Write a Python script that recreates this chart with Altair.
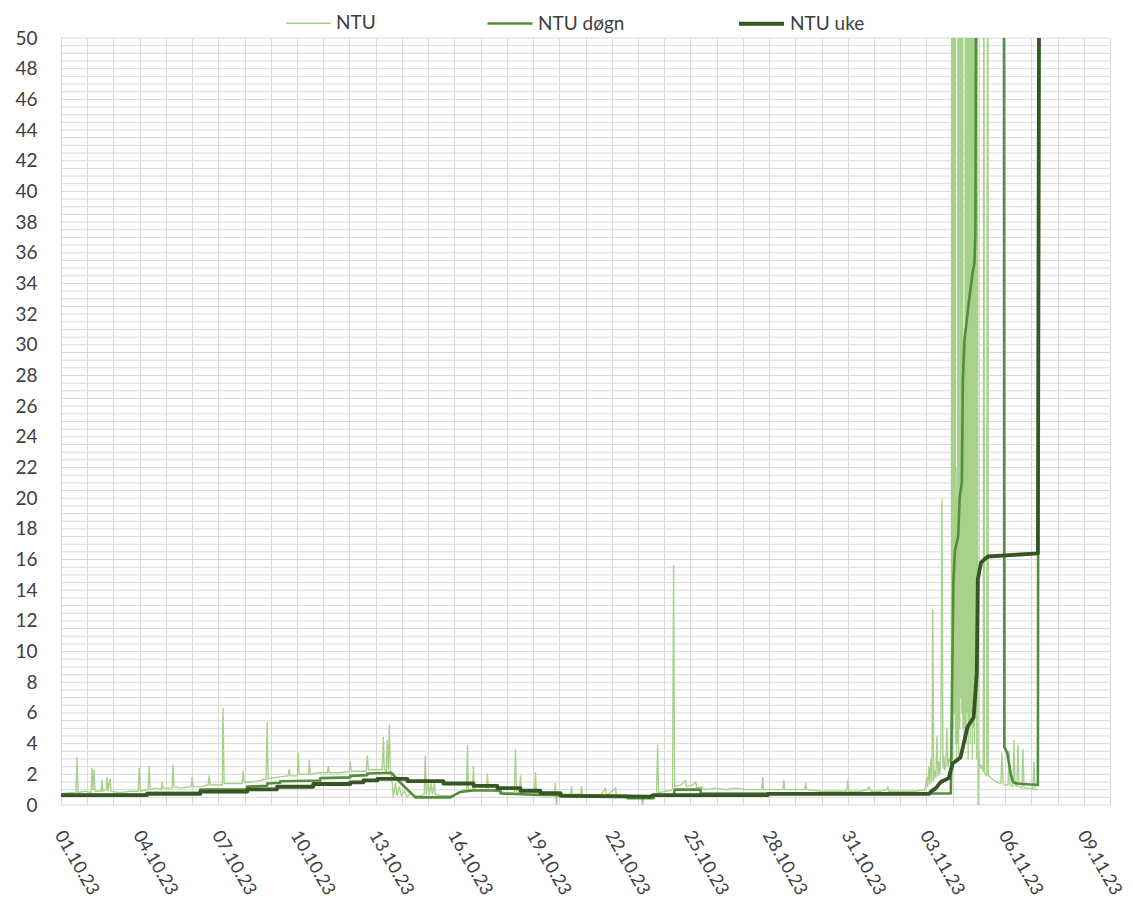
import json
import altair as alt
import pandas as pd

# ---------------- data ----------------
series_names = ["NTU", "NTU døgn", "NTU uke"]
series_colors = ["#A9D18E", "#558D3E", "#375623"]
series_widths = [1.4, 3.8, 3.8]

# x = days since 01.10.23 00:00
x_tick_labels = ["01.10.23", "04.10.23", "07.10.23", "10.10.23", "13.10.23",
                 "16.10.23", "19.10.23", "22.10.23", "25.10.23", "28.10.23",
                 "31.10.23", "03.11.23", "06.11.23", "09.11.23"]
y_tick_labels = [0, 2, 4, 6, 8, 10, 12, 14, 16, 18, 20, 22, 24, 26, 28, 30,
                 32, 34, 36, 38, 40, 42, 44, 46, 48, 50]

# raw NTU readings (day, NTU)
ntu_raw = [
    (0.00, 0.75), (0.34, 0.8), (0.57, 0.8), (0.61, 3.1), (0.65, 0.8), (0.92, 0.9),
    (1.15, 0.8), (1.18, 2.4), (1.22, 1.0), (1.26, 2.3), (1.30, 0.9), (1.53, 0.9),
    (1.56, 1.6), (1.60, 0.9), (1.72, 1.0), (1.76, 1.8), (1.79, 0.9), (1.87, 1.7),
    (1.91, 0.9), (2.25, 0.8), (2.63, 0.9), (2.94, 0.9), (2.98, 2.4), (3.02, 0.9),
    (3.32, 1.0), (3.36, 2.5), (3.40, 1.0), (3.59, 1.1), (3.82, 1.0), (3.85, 1.5),
    (3.89, 1.1), (4.24, 1.1), (4.27, 2.6), (4.31, 1.2), (4.54, 1.1), (4.96, 1.2),
    (5.00, 1.8), (5.04, 1.2), (5.31, 1.2), (5.61, 1.3), (5.65, 1.9), (5.69, 1.3),
    (5.88, 1.3), (6.15, 1.3), (6.18, 6.3), (6.22, 1.4), (6.45, 1.4), (6.91, 1.4),
    (6.95, 2.2), (6.98, 1.5), (7.29, 1.5), (7.60, 1.6), (7.82, 1.7), (7.86, 5.4),
    (7.90, 1.7), (8.17, 1.8), (8.66, 1.9), (8.70, 2.3), (8.74, 1.9), (9.01, 1.9),
    (9.05, 3.4), (9.08, 2.0), (9.43, 2.0), (9.47, 2.9), (9.50, 2.0), (9.81, 2.1),
    (10.15, 2.1), (10.19, 2.5), (10.23, 2.1), (10.65, 2.1), (10.99, 2.2), (11.03, 2.8),
    (11.07, 2.2), (11.34, 2.2), (11.64, 2.2), (11.68, 3.2), (11.72, 2.3), (11.98, 2.3),
    (12.25, 2.3), (12.29, 4.4), (12.33, 2.3), (12.40, 2.2), (12.44, 4.2), (12.48, 2.3),
    (12.52, 5.2), (12.56, 2.3), (12.63, 1.4), (12.67, 0.5), (12.75, 1.4), (12.82, 0.6),
    (12.90, 1.2), (12.98, 0.6), (13.09, 0.9), (13.21, 0.5), (13.32, 0.8), (13.51, 0.6),
    (13.70, 0.6), (13.85, 0.7), (13.89, 3.2), (13.93, 0.7), (14.01, 1.5), (14.05, 0.7),
    (14.12, 1.4), (14.16, 0.7), (14.24, 1.4), (14.27, 0.7), (14.47, 0.6), (14.85, 0.6),
    (15.15, 0.8), (15.46, 1.0), (15.50, 3.9), (15.53, 1.0), (15.69, 1.0), (15.73, 2.5),
    (15.76, 1.0), (15.99, 1.0), (16.22, 1.0), (16.26, 2.0), (16.30, 1.0), (16.56, 0.9),
    (16.95, 0.8), (17.29, 0.8), (17.33, 3.6), (17.37, 0.8), (17.48, 0.8), (17.52, 1.9),
    (17.56, 0.8), (17.90, 0.7), (18.05, 0.7), (18.09, 2.1), (18.13, 0.7), (18.47, 0.7),
    (18.82, 0.7), (18.85, 1.4), (18.89, 0.0), (18.93, 0.7), (19.43, 0.7), (19.47, 1.2),
    (19.50, 0.7), (19.81, 0.7), (19.85, 1.2), (19.89, 0.6), (20.57, 0.6), (20.76, 1.1),
    (20.80, 0.6), (21.15, 1.1), (21.18, 0.6), (21.72, 0.5), (22.14, 0.5), (22.18, 0.0),
    (22.21, 0.5), (22.48, 0.6), (22.71, 0.7), (22.75, 3.9), (22.79, 0.8), (23.05, 0.9),
    (23.32, 1.0), (23.36, 15.6), (23.40, 1.2), (23.63, 1.3), (23.82, 1.6), (23.85, 1.2),
    (24.08, 1.3), (24.20, 1.5), (24.24, 1.1), (24.39, 1.2), (24.58, 1.0), (24.96, 1.1),
    (25.34, 1.0), (25.73, 1.1), (26.11, 1.0), (26.49, 1.0), (26.72, 1.0), (26.76, 1.8),
    (26.79, 1.0), (27.06, 1.0), (27.52, 1.0), (27.56, 1.6), (27.60, 1.0), (28.02, 1.0),
    (28.36, 1.0), (28.40, 1.4), (28.44, 1.0), (28.97, 0.9), (29.54, 0.9), (29.96, 0.9),
    (30.00, 1.6), (30.04, 0.9), (30.50, 0.9), (30.76, 1.0), (30.80, 1.2), (30.88, 0.9),
    (31.26, 0.9), (31.49, 1.0), (31.53, 1.2), (31.56, 0.9), (32.02, 0.9), (32.60, 0.9),
    (32.94, 1.0),
    # event 03.11 - 07.11
    (33.02, 1.8), (33.05, 1.2), (33.09, 2.5), (33.13, 1.4), (33.17, 3.0), (33.21, 1.5),
    (33.24, 12.7), (33.28, 1.6), (33.32, 2.2), (33.36, 1.8), (33.40, 4.5), (33.44, 1.9),
    (33.47, 2.8), (33.51, 2.0), (33.55, 3.5), (33.59, 19.9), (33.63, 2.4), (33.66, 3.2),
    (33.70, 2.3), (33.74, 2.6), (33.78, 5.0), (33.82, 2.5), (33.85, 3.0), (33.89, 2.8),
    (33.93, 3.5),
    (33.95, 4), (33.97, 95), (33.99, 3), (34.01, 120), (34.03, 5), (34.05, 110),
    (34.07, 6), (34.09, 130), (34.11, 4), (34.13, 20), (34.15, 3), (34.17, 22),
    (34.19, 4), (34.21, 105), (34.23, 3), (34.25, 115), (34.27, 5), (34.29, 125),
    (34.31, 7), (34.33, 135), (34.35, 6), (34.37, 140), (34.39, 5), (34.41, 25),
    (34.43, 4), (34.45, 30), (34.47, 5), (34.49, 120), (34.51, 4), (34.53, 110),
    (34.55, 6), (34.57, 130), (34.59, 3), (34.61, 125), (34.63, 5), (34.65, 135),
    (34.67, 4), (34.69, 140), (34.71, 6), (34.73, 120), (34.75, 3), (34.77, 115),
    (34.79, 5), (34.81, 110), (34.83, 4), (34.85, 105), (34.87, 6), (34.89, 95),
    (34.91, 3), (34.93, 90), (34.95, 60),
    (34.97, 0.0), (34.99, 3.5), (35.02, 2.8), (35.05, 2.4), (35.08, 2.6), (35.17, 2.2),
    (35.19, 90), (35.21, 2.1), (35.30, 1.9), (35.34, 90), (35.36, 1.9), (35.45, 1.8),
    (35.57, 1.6), (35.69, 1.5), (35.84, 1.4), (35.88, 3.4), (35.92, 1.4), (35.99, 1.3),
    (36.11, 1.3), (36.15, 3.5), (36.19, 1.3), (36.30, 1.2), (36.34, 4.2), (36.38, 1.3),
    (36.45, 1.2), (36.49, 3.9), (36.53, 1.2), (36.64, 1.1), (36.68, 3.6), (36.72, 1.1),
    (36.95, 1.1), (37.06, 1.0), (37.10, 2.8), (37.14, 1.0), (37.25, 1.0),
]

# 24 h average (day, NTU)
ntu_dogn = [
    (0.00, 0.65), (3.28, 0.65), (3.28, 0.8), (5.31, 0.8), (5.31, 1.0), (7.10, 1.0),
    (7.10, 1.2), (7.86, 1.25), (7.86, 1.4), (8.36, 1.45), (8.36, 1.55), (9.89, 1.6),
    (9.89, 1.75), (11.03, 1.8), (11.03, 1.9), (11.68, 1.95), (11.68, 2.05), (12.60, 2.1),
    (12.86, 1.6), (13.51, 0.5), (14.85, 0.5), (15.23, 0.85), (15.69, 0.95), (16.76, 0.95),
    (16.76, 0.75), (18.28, 0.65), (21.60, 0.6), (21.60, 0.45), (22.60, 0.45), (22.60, 0.6),
    (23.36, 0.6), (23.40, 1.0), (24.39, 1.0), (24.39, 0.75), (33.93, 0.75), (34.03, 14.7),
    (34.09, 16.6), (34.21, 17.5), (34.27, 20.1), (34.35, 21.0), (34.39, 27.7), (34.45, 30.3),
    (34.64, 33.1), (34.76, 34.7), (34.83, 35.3), (34.87, 37.5), (34.92, 80), (35.95, 80),
    (35.97, 3.8), (36.08, 3.4), (36.22, 2.0), (36.30, 1.5), (36.45, 1.4), (37.25, 1.3),
    (37.30, 80),
]

# 7 day average (day, NTU)
ntu_uke = [
    (0.00, 0.65), (3.28, 0.65), (3.28, 0.72), (5.31, 0.72), (5.31, 0.87), (7.10, 0.87),
    (7.10, 1.02), (8.24, 1.02), (8.24, 1.19), (9.62, 1.19), (9.62, 1.37), (11.03, 1.37),
    (11.03, 1.47), (11.53, 1.47), (11.53, 1.6), (12.06, 1.6), (12.06, 1.7), (13.21, 1.7),
    (13.21, 1.56), (14.58, 1.56), (14.58, 1.4), (15.73, 1.4), (15.73, 1.25), (16.64, 1.25),
    (16.64, 1.1), (17.52, 1.1), (17.52, 0.93), (18.28, 0.93), (18.28, 0.78), (19.05, 0.78),
    (19.05, 0.6), (22.48, 0.55), (22.60, 0.65), (26.95, 0.65), (26.95, 0.72), (33.10, 0.72),
    (33.17, 0.87), (33.36, 1.1), (33.55, 1.5), (33.85, 1.75), (34.00, 2.7), (34.30, 3.1),
    (34.42, 4.0), (34.57, 5.1), (34.80, 5.7), (34.92, 8.6), (34.96, 14.7), (35.08, 15.8),
    (35.34, 16.2), (37.25, 16.4), (37.33, 80),
]

# minor horizontal gridline positions (every 0.5 NTU)
y_grid = [i * 0.5 for i in range(0, 101)]


def frame(points, name):
    return pd.DataFrame({
        "day": [p[0] for p in points],
        "value": [p[1] for p in points],
        "series": name,
        "idx": list(range(len(points))),
    })


FONT = "Lato"
TEXT = "#404040"
GRID = "#D9D9D9"

x_label_expr = "datum.value % 3 === 0 ? " + json.dumps(x_tick_labels) + "[datum.value / 3] : ''"

x_axis = alt.Axis(values=list(range(0, 41)), labelExpr=x_label_expr, labelAngle=60,
                  labelAlign="left", labelBaseline="middle", labelPadding=27,
                  labelOffset=-3,
                  ticks=False, domain=False, grid=True, gridColor=GRID, gridWidth=1,
                  labelFont=FONT, labelFontSize=18, labelColor=TEXT,
                  labelOverlap=False, labelFlush=False, title=None)
y_axis = alt.Axis(values=y_tick_labels, format="d",
                  ticks=False, domain=False, grid=False,
                  labelFont=FONT, labelFontSize=19, labelColor=TEXT, labelPadding=24,
                  labelOverlap=False, labelFlush=False, title=None)

legend = alt.Legend(title=None, orient="none", legendX=224, legendY=-39,
                    direction="horizontal", symbolType="stroke", symbolSize=2025,
                    labelFont=FONT, labelFontSize=19, labelColor=TEXT,
                    columnPadding=106, labelOffset=4)

x_scale = alt.Scale(domain=[0, 40], nice=False, zero=False)
y_scale = alt.Scale(domain=[0, 50], nice=False, zero=False)
color_scale = alt.Scale(domain=series_names, range=series_colors)
width_scale = alt.Scale(domain=series_names, range=series_widths)

grid_layer = alt.Chart(pd.DataFrame({"value": y_grid})).mark_rule(
    color=GRID, strokeWidth=1
).encode(y=alt.Y("value:Q", scale=y_scale, axis=y_axis))


def layer(points, name):
    return alt.Chart(frame(points, name)).mark_line(clip=True, strokeJoin="round").encode(
        x=alt.X("day:Q", scale=x_scale, axis=x_axis),
        y=alt.Y("value:Q", scale=y_scale, axis=y_axis),
        color=alt.Color("series:N", scale=color_scale, legend=legend),
        strokeWidth=alt.StrokeWidth("series:N", scale=width_scale, legend=legend),
        order=alt.Order("idx:Q"),
    )


chart = alt.layer(
    grid_layer,
    layer(ntu_raw, "NTU"),
    layer(ntu_dogn, "NTU døgn"),
    layer(ntu_uke, "NTU uke"),
).properties(
    width=1049,
    height=767,
    autosize=alt.AutoSizeParams(type="none"),
    padding={"left": 53, "top": 30, "right": 15, "bottom": 97},
    background="white",
).configure_view(stroke=None)

chart.save("out.html", embed_options={"renderer": "svg", "actions": False})
